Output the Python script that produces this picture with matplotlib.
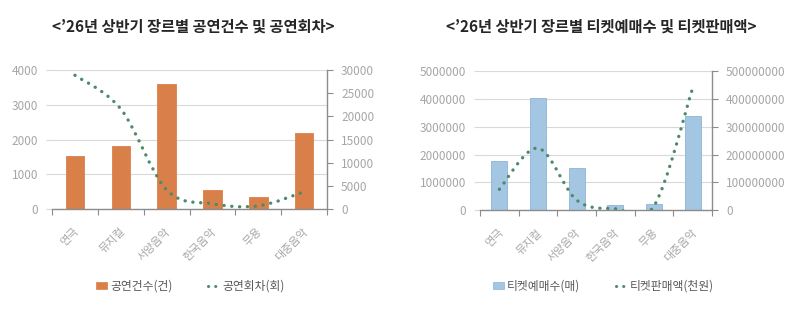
import matplotlib
matplotlib.use("Agg")
import matplotlib.pyplot as plt
import numpy as np
from matplotlib.path import Path
from matplotlib.patches import PathPatch
from matplotlib.lines import Line2D
from matplotlib.patches import Patch

plt.rcParams['font.family'] = ['Noto Sans CJK KR', 'DejaVu Sans']

categories = ['연극', '뮤지컬', '서양음악', '한국음악', '무용', '대중음악']

# left chart
perf_counts = [1530, 1800, 3600, 550, 350, 2200]          # 공연건수(건)
perf_sessions = [28900, 21600, 4100, 1100, 650, 3700]    # 공연회차(회)
left_yticks = [0, 1000, 2000, 3000, 4000]
left_y2ticks = [0, 5000, 10000, 15000, 20000, 25000, 30000]

# right chart
ticket_counts = [1780000, 4020000, 1520000, 190000, 220000, 3400000]      # 티켓예매수(매)
ticket_sales = [75000000, 223000000, 36000000, 5000000, 15000000, 439000000]  # 티켓판매액(천원)
right_yticks = [0, 1000000, 2000000, 3000000, 4000000, 5000000]
right_y2ticks = [0, 100000000, 200000000, 300000000, 400000000, 500000000]

title_left = "<’26년 상반기 장르별 공연건수 및 공연회차>"
title_right = "<’26년 상반기 장르별 티켓예매수 및 티켓판매액>"

ORANGE = '#D9804A'
BLUE = '#A3C7E3'
BLUE_EDGE = '#8DB4D4'
GREEN = '#4E8A6A'
TICK_C = '#A6A6A6'
GRID_C = '#D9D9D9'
AXIS_C = '#8C8C8C'
TEXT_C = '#595959'


def smooth_path(xs, ys):
    pts = np.column_stack([xs, ys]).astype(float)
    n = len(pts)
    verts = [pts[0]]
    codes = [Path.MOVETO]
    for i in range(n - 1):
        p0 = pts[i - 1] if i > 0 else pts[i]
        p1 = pts[i]
        p2 = pts[i + 1]
        p3 = pts[i + 2] if i + 2 < n else pts[i + 1]
        c1 = p1 + (p2 - p0) / 6.0
        c2 = p2 - (p3 - p1) / 6.0
        verts += [c1, c2, p2]
        codes += [Path.CURVE4] * 3
    return Path(verts, codes)


def make_chart(rect, bars, line, yt, y2t, bar_color, bar_edge, width, title, title_x,
               leg_labels, leg_x):
    ax = fig.add_axes(rect)
    x = np.arange(len(categories))
    ax.bar(x, bars, width=width, color=bar_color, edgecolor=bar_edge, linewidth=0.6, zorder=2)
    ax.set_xlim(-0.5, len(categories) - 0.5)
    ax.set_ylim(yt[0], yt[-1])
    ax.set_yticks(yt)
    ax.set_yticklabels([str(v) for v in yt])
    ax.yaxis.grid(True, color=GRID_C, linewidth=0.8, zorder=0)
    ax.set_axisbelow(True)
    for s in ['top', 'left', 'right']:
        ax.spines[s].set_visible(False)
    ax.spines['bottom'].set_color(AXIS_C)
    ax.spines['bottom'].set_linewidth(1.0)
    ax.tick_params(axis='y', colors=GRID_C, labelcolor=TICK_C, labelsize=8.5, length=4, pad=6)
    # category ticks at boundaries
    ax.set_xticks(np.arange(-0.5, len(categories), 1.0))
    ax.set_xticklabels([])
    ax.tick_params(axis='x', colors=AXIS_C, length=4, direction='out')
    for i, c in enumerate(categories):
        ax.annotate(c, xy=(i, 0), xycoords=('data', 'axes fraction'),
                    xytext=(-1, -12.5), textcoords='offset points',
                    rotation=45, ha='right', va='top', rotation_mode='anchor',
                    fontsize=8, color=TICK_C)

    ax2 = ax.twinx()
    ax2.set_ylim(y2t[0], y2t[-1])
    ax2.set_yticks(y2t)
    ax2.set_yticklabels([str(v) for v in y2t])
    for s in ['top', 'left', 'bottom']:
        ax2.spines[s].set_visible(False)
    ax2.spines['right'].set_color(AXIS_C)
    ax2.spines['right'].set_linewidth(1.0)
    ax2.tick_params(axis='y', colors=AXIS_C, labelcolor=TICK_C, labelsize=8.5, length=4, pad=6)
    patch = PathPatch(smooth_path(x, line), fill=False, edgecolor=GREEN, linewidth=2.4,
                      linestyle=(0, (0.05, 2.3)), capstyle='round', zorder=3)
    ax2.add_patch(patch)

    fig.text(title_x, 0.915, title, ha='center', va='center', fontsize=11,
             fontweight='bold', color='#262626')

    handles = [Patch(facecolor=bar_color, edgecolor=bar_edge, linewidth=0.5),
               Line2D([0], [0], color=GREEN, linewidth=2.2, linestyle=(0, (0.05, 2.3)),
                      dash_capstyle='round')]
    fig.legend(handles, leg_labels, loc='center left', bbox_to_anchor=(leg_x, 0.095),
               ncol=2, frameon=False, fontsize=8.5, labelcolor=TEXT_C,
               handlelength=0.9, handleheight=0.55, handletextpad=0.3, columnspacing=3.0)
    return ax, ax2


fig = plt.figure(figsize=(8.0, 3.16), dpi=100)

make_chart([0.065, 0.339, 0.344, 0.439], perf_counts, perf_sessions, left_yticks, left_y2ticks,
           ORANGE, ORANGE, 0.4, title_left, 0.241, ['공연건수(건)', '공연회차(회)'], 0.107)
make_chart([0.600, 0.335, 0.290, 0.440], ticket_counts, ticket_sales, right_yticks, right_y2ticks,
           BLUE, BLUE_EDGE, 0.42, title_right, 0.752, ['티켓예매수(매)', '티켓판매액(천원)'], 0.603)

fig.savefig('out.png', dpi=100)
